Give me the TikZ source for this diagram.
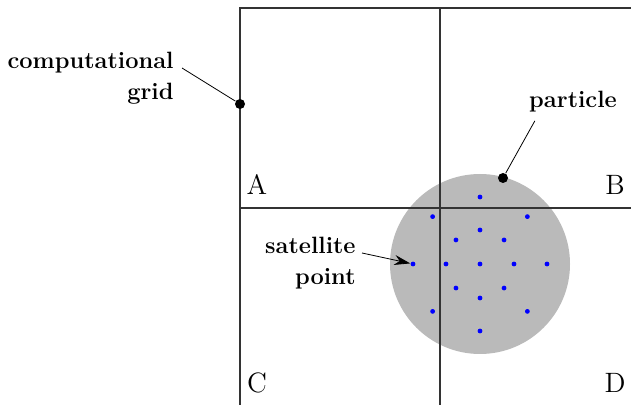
\documentclass[tikz,border=0pt]{standalone}
\usepackage{tikz}
\usetikzlibrary{arrows.meta}

\tikzset{
  gridline/.style={black!80, line width=0.6pt},
  satdot/.style={circle, fill=blue, inner sep=0pt, minimum size=2.4pt},
  tagdot/.style={circle, fill=black, inner sep=0pt, minimum size=5pt},
  tag/.style={font=\fontsize{11.8}{15.5}\selectfont\bfseries, align=right, inner sep=0pt},
  corner/.style={font=\fontsize{14}{16}\selectfont, inner sep=0pt}
}

\begin{document}
\begin{tikzpicture}[x=0.5pt, y=-0.5pt]
  \useasboundingbox (0,0) rectangle (631,405);
  \fill[black!27] (480,264) circle [radius=45pt];
  \draw[gridline] (240,405) |- (631,8);
  \draw[gridline] (440,8) -- (440,405);
  \draw[gridline] (240,208) -- (631,208);
  \node[corner] (A) at (257,185) {A};
  \node[corner] (B) at (615,185) {B};
  \node[corner] (C) at (257,383) {C};
  \node[corner] (D) at (615,383) {D};
  \node[satdot] (s0) at (480,264) {};
  \foreach \a in {0,45,...,315} {
    \node[satdot] (inner-\a) at ([shift={(\a:34)}]s0) {};
    \node[satdot] (outer-\a) at ([shift={(\a:67)}]s0) {};
  }
  \node[tagdot] (gdot) at (240,104) {};
  \node[tagdot] (pdot) at (503,178) {};
  \node[tag, anchor=east] (grid) at (174,78) {computational\\grid};
  \node[tag] (part) at (573,102) {particle};
  \node[tag, anchor=east] (sat) at (356,263) {satellite\\point};
  \draw (grid.east) ++(8,-10) -- (gdot);
  \draw (part.south west) ++(6,8) -- (pdot);
  \draw[-{Stealth[length=8pt, width=5pt]}] (sat.east) ++(6,-10) -- (outer-180);
\end{tikzpicture}
\end{document}
